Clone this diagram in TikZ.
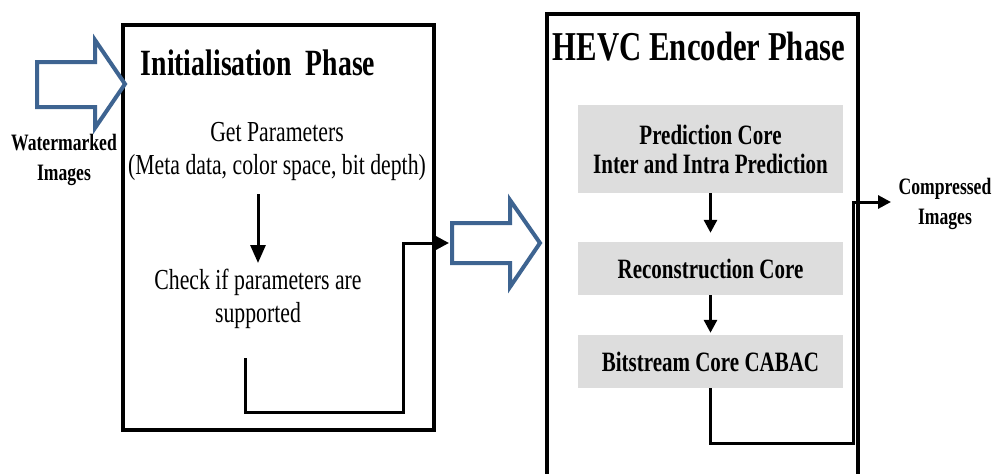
\documentclass[tikz,border=0pt]{standalone}
\usepackage{fontspec}
\setmainfont{Liberation Serif}[FakeStretch=0.75]
\usetikzlibrary{arrows.meta}

\definecolor{arrowblue}{RGB}{62,100,145}
\definecolor{coregray}{RGB}{221,221,221}

\tikzset{
    panel/.style={line width=4.5pt},
    bigarrow/.style={draw=arrowblue, line width=4pt, fill=white, line join=miter},
    core/.style={fill=coregray, minimum width=265pt, inner sep=0pt, align=center,
        font=\bfseries\fontsize{28}{29}\selectfont},
    body/.style={inner sep=0pt, align=center, font=\fontsize{29}{33}\selectfont},
    heading/.style={inner sep=0pt, anchor=base, font=\bfseries\fontsize{37}{40}\selectfont},
    iolabel/.style={inner sep=0pt, align=center, font=\bfseries\fontsize{23.5}{30}\selectfont},
    conn/.style={line width=3pt},
    flow/.style={line width=3pt, -{Triangle[length=18pt,width=15pt]}},
    link/.style={line width=3pt, -{Triangle[length=13pt,width=13pt]}}
}

\begin{document}
\begin{tikzpicture}[x=1pt,y=-1pt]
\useasboundingbox (0,0) rectangle (997,474);

% Panels
\draw[panel] (123,25) rectangle (434,430);
\draw[panel] (547,478) -- (547,14) -- (858,14) -- (858,478);

% Titles
\node[heading] (inittitle) at (258,75) {Initialisation\ \ Phase};
\node[heading, font=\bfseries\fontsize{41}{44}\selectfont] (hevctitle) at (699,60) {HEVC Encoder Phase};

% Input and output
\draw[bigarrow] (37,62) -- (95,62) -- (95,40) -- (125,84) -- (95,128) -- (95,107) -- (37,107) -- cycle;
\node[iolabel] (inlabel) at (64,160) {Watermarked\\Images};
\node[iolabel] (outlabel) at (945,204) {Compressed\\Images};

% Initialisation steps
\node[body] (getp) at (277,151) {Get Parameters\\(Meta data, color space, bit depth)};
\node[body] (check) at (258,299) {Check if parameters are\\supported};
\draw[flow, shorten <=14pt, shorten >=6pt] (getp.south -| check.north) -- (check.north);

% Hand over to encoder
\draw[bigarrow] (452,223) -- (510,223) -- (510,200) -- (540,243) -- (510,287) -- (510,263) -- (452,263) -- cycle;
\coordinate (checkout) at (245,358);
\coordinate (midtip) at (449,243);
\draw[conn, -{Triangle[length=13pt,width=13pt]}] (checkout) |- (403,412) |- (midtip);

% Encoder cores
\node[core, minimum height=88pt] (pred) at (710.5,149) {Prediction Core\\Inter and Intra Prediction};
\node[core, minimum height=53pt] (recon) at (710.5,268.5) {Reconstruction Core};
\node[core, minimum height=53pt] (bits) at (710.5,361.5) {Bitstream Core CABAC};
\draw[link, shorten >=9pt] (pred.south) -- (recon.north);
\draw[link, shorten >=2pt] (recon.south) -- (bits.north);

% Output
\coordinate (outtip) at (891,202);
\draw[conn, -{Triangle[length=13pt,width=13pt]}] (bits.south) |- (853,443) |- (outtip);

\end{tikzpicture}
\end{document}
